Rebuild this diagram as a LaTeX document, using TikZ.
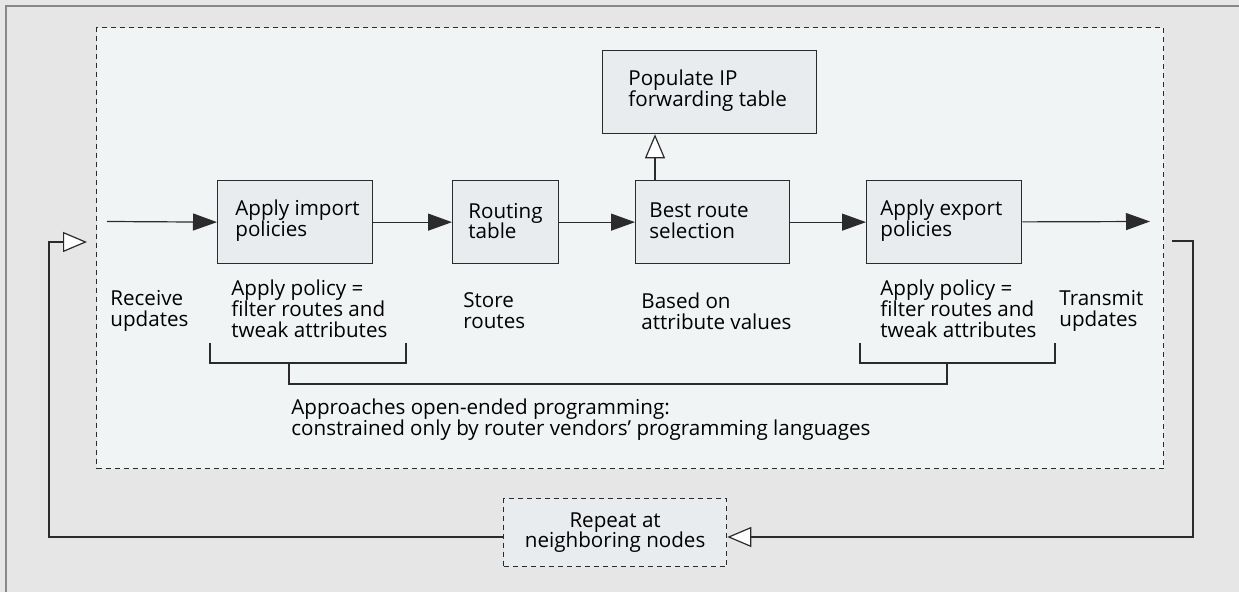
\documentclass[tikz,border=0pt]{standalone}
\usepackage{fontspec}
\setmainfont{Open Sans}
\usetikzlibrary{arrows.meta}
\definecolor{bgouter}{HTML}{E6E6E6}
\definecolor{bginner}{HTML}{F1F4F5}
\definecolor{boxfill}{HTML}{E8ECEE}
\definecolor{linecol}{HTML}{2B2B2B}
\definecolor{framecol}{HTML}{888888}
\begin{document}
\begin{tikzpicture}[x=0.5pt,y=-0.5pt,
  font=\fontsize{10.3pt}{10.4pt}\selectfont,
  box/.style={draw=linecol, line width=0.65pt, fill=boxfill, inner sep=0pt, anchor=north west},
  dashbox/.style={draw=linecol, line width=0.65pt, dash pattern=on 2.5pt off 2pt, inner sep=0pt, anchor=north west},
  txt/.style={align=left, anchor=west, inner sep=0pt, text=black},
  conn/.style={draw=linecol, line width=0.6pt},
  solidarrow/.style={conn, -{Triangle[length=12pt,width=8.5pt]}},
  openarrow/.style={conn, -{Triangle[open,length=12pt,width=10pt,fill=white]}},
]
\useasboundingbox (0,0) rectangle (1239,592);
\fill[bgouter] (0,0) rectangle (1239,592);
\draw[framecol, line width=1pt] (6,592) -- (6,6) -- (1239,6);

% inner dashed frame
\node[dashbox, fill=bginner, minimum width=533.5pt, minimum height=220.5pt] (frame) at (96,27) {};

% boxes
\node[box, minimum width=77.5pt, minimum height=41.5pt] (imp) at (217,180) {};
\node[box, minimum width=53pt, minimum height=41.5pt] (rt) at (452,180) {};
\node[box, minimum width=77pt, minimum height=41.5pt] (best) at (635,180) {};
\node[box, minimum width=107pt, minimum height=41.5pt] (pop) at (602,50) {};
\node[box, minimum width=77.5pt, minimum height=41.5pt] (exp) at (866,180) {};
\node[dashbox, fill=boxfill, minimum width=111.5pt, minimum height=34pt] (rep) at (503,498) {};

% box texts
\node[txt] (impt) at (235,221) {Apply import\\policies};
\node[txt] (rtt) at (468,221) {Routing\\table};
\node[txt] (bestt) at (649,221) {Best route\\selection};
\node[txt] (popt) at (628,91) {Populate IP\\forwarding table};
\node[txt] (expt) at (880,221) {Apply export\\policies};
\node[align=center, inner sep=0pt] (rept) at (rep.center) {Repeat at\\neighboring nodes};

% free labels
\node[txt] (recv) at (110,311) {Receive\\updates};
\node[txt] (pol1) at (231,309) {Apply policy =\\filter routes and\\tweak attributes};
\node[txt] (store) at (463,311) {Store\\routes};
\node[txt] (based) at (641,311) {Based on\\attribute values};
\node[txt] (pol2) at (880,309) {Apply policy =\\filter routes and\\tweak attributes};
\node[txt] (trans) at (1059,311) {Transmit\\updates};
\node[txt] (appr) at (291,420) {Approaches open-ended programming:\\constrained only by router vendors’ programming languages};

% main flow
\coordinate (in) at (107,221.5);
\coordinate (out) at (1150,221.5);
\draw[solidarrow] (in) -- (imp.west);
\draw[solidarrow] (imp) -- (rt);
\draw[solidarrow] (rt) -- (best);
\draw[solidarrow] (best) -- (exp);
\draw[solidarrow] (exp) -- (out);
\draw[openarrow] ([xshift=10pt]best.north west) -- ([xshift=10pt]best.north west |- pop.south);

% feedback loop
\coordinate (fbstart) at (1172,241);
\coordinate (fbcorner) at (1193,537);
\coordinate (lbcorner) at (49,537);
\coordinate (intip) at (87,242);
\draw[openarrow] (fbstart) -| (fbcorner) -- (fbcorner -| rep.east);
\draw[openarrow] (rep.west |- lbcorner) -- (lbcorner) |- (intip);

% brackets
\coordinate (b1a) at (210,343);
\coordinate (b1b) at (406,363);
\coordinate (b2a) at (860,343);
\coordinate (b2b) at (1055,363);
\coordinate (s1) at (289,363);
\coordinate (s2) at (947,384);
\draw[conn] (b1a) |- (b1b) -- (b1b |- b1a);
\draw[conn] (b2a) |- (b2b) -- (b2b |- b2a);
\draw[conn] (s1) |- (s2) -- (s2 |- s1);
\end{tikzpicture}
\end{document}
